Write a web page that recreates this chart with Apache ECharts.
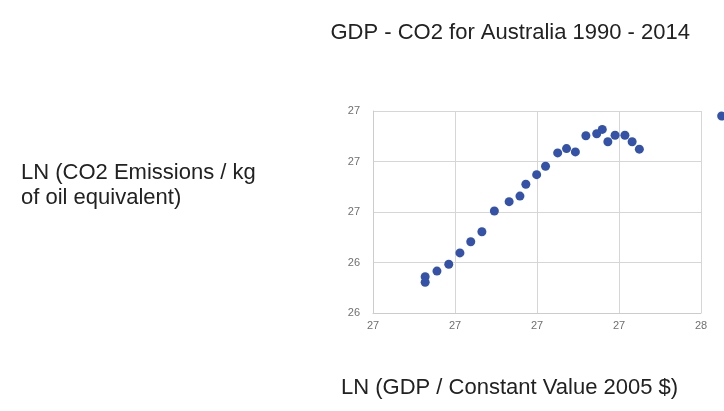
<!DOCTYPE html>
<html>
<head>
<meta charset="utf-8">
<script src="https://cdn.jsdelivr.net/npm/echarts@6/dist/echarts.min.js"></script>
<style>
html,body{margin:0;padding:0;background:#fff;}
#chart{width:724px;height:411px;}
</style>
</head>
<body>
<div id="chart"></div>
<script>
// LN(GDP) values (x) and LN(CO2) values (y), 1990 - 2014
const lnGdp = [26.659, 26.659, 26.695, 26.731, 26.765, 26.798, 26.832, 26.870, 26.915, 26.948, 26.966, 26.999, 27.026, 27.063, 27.090, 27.117, 27.149, 27.182, 27.199, 27.216, 27.238, 27.268, 27.290, 27.312, 27.563];
const lnCo2 = [26.344, 26.322, 26.366, 26.393, 26.438, 26.482, 26.522, 26.604, 26.641, 26.663, 26.710, 26.748, 26.781, 26.834, 26.851, 26.838, 26.902, 26.910, 26.927, 26.878, 26.904, 26.904, 26.878, 26.849, 26.980];
const titleText = 'GDP - CO2 for Australia 1990 - 2014';
const xTitle = 'LN (GDP / Constant Value 2005 $)';
const yTitleLines = ['LN (CO2 Emissions / kg', 'of oil equivalent)'];

const points = lnGdp.map((x, i) => [x, lnCo2[i]]);
const fontFam = '"Liberation Sans", Arial, sans-serif';
const chart = echarts.init(document.getElementById('chart'));
chart.setOption({
  animation: false,
  backgroundColor: '#fff',
  graphic: [
    {type: 'text', x: 330.5, y: 32.5, style: {text: titleText, font: '22px ' + fontFam, fill: '#222', textVerticalAlign: 'middle', textAlign: 'left'}},
    {type: 'text', x: 341, y: 387.5, style: {text: xTitle, font: '22px ' + fontFam, fill: '#222', textVerticalAlign: 'middle', textAlign: 'left'}},
    {type: 'text', x: 21, y: 173, style: {text: yTitleLines[0], font: '22px ' + fontFam, fill: '#222', textVerticalAlign: 'middle', textAlign: 'left'}},
    {type: 'text', x: 21, y: 197.5, style: {text: yTitleLines[1], font: '22px ' + fontFam, fill: '#222', textVerticalAlign: 'middle', textAlign: 'left'}}
  ],
  grid: {left: 373, top: 111, width: 328, height: 202, containLabel: false},
  xAxis: {
    type: 'value', min: 26.5, max: 27.5, interval: 0.25,
    axisLine: {show: true, lineStyle: {color: '#cccccc'}},
    axisTick: {show: false},
    splitLine: {show: true, lineStyle: {color: '#d6d6d6'}},
    axisLabel: {formatter: v => String(Math.round(v)), color: '#707070', fontFamily: fontFam, fontSize: 11, margin: 7, showMinLabel: true, showMaxLabel: true}
  },
  yAxis: {
    type: 'value', min: 26.2, max: 27.0, interval: 0.2,
    axisLine: {show: true, lineStyle: {color: '#cccccc'}},
    axisTick: {show: false},
    splitLine: {show: true, lineStyle: {color: '#d6d6d6'}},
    axisLabel: {formatter: v => String(Math.round(v)), color: '#707070', fontFamily: fontFam, fontSize: 11, margin: 13, showMinLabel: true, showMaxLabel: true}
  },
  series: [{
    type: 'scatter',
    data: points,
    symbolSize: 9,
    clip: false,
    itemStyle: {color: '#3352a8', opacity: 1}
  }]
});
</script>
</body>
</html>
